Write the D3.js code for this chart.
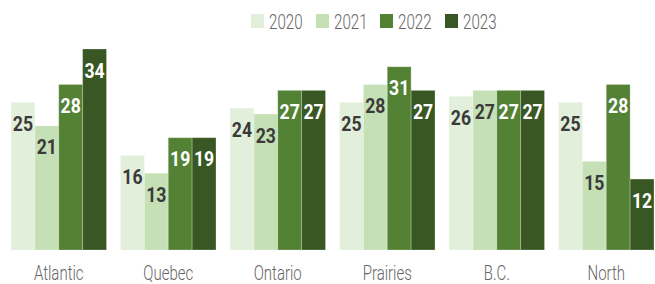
<!DOCTYPE html>
<html>
<head>
<meta charset="utf-8">
<script src="https://cdn.jsdelivr.net/npm/d3@7"></script>
<style>
body { margin: 0; background: #fff; }
text { font-family: Roboto, "Liberation Sans", sans-serif; }
</style>
</head>
<body>
<script>
var regions = ["Atlantic", "Quebec", "Ontario", "Prairies", "B.C.", "North"];
var years = ["2020", "2021", "2022", "2023"];
var v2020 = [25, 16, 24, 25, 26, 25];
var v2021 = [21, 13, 23, 28, 27, 15];
var v2022 = [28, 19, 27, 31, 27, 28];
var v2023 = [34, 19, 27, 27, 27, 12];
var colors = ["#e2efda", "#c5e0b4", "#548235", "#385723"];
var labelColors = ["#3a3a3a", "#3a3a3a", "#ffffff", "#ffffff"];

var series = [v2020, v2021, v2022, v2023];

var width = 655;
var height = 284;

var svg = d3.select("body").append("svg")
.attr("width", width)
.attr("height", height);

var xScale = d3.scaleBand().domain(regions).range([11, 654]).paddingInner(0.128).paddingOuter(0);
var xInner = d3.scaleBand().domain(years).range([0, xScale.bandwidth()]).padding(0);
var yScale = d3.scaleLinear().domain([0, 34]).range([250, 49]);

// legend
var legendX = d3.scaleOrdinal().domain(years).range([251, 316, 380, 445]);
var legend = svg.selectAll("g.legend")
.data(years)
.enter()
.append("g")
.attr("class", "legend")
.attr("transform", function(d){return "translate(" + legendX(d) + ",14)"});

legend.append("rect")
.attr("width", 13)
.attr("height", 14)
.attr("fill", function(d, i){return colors[i]});

legend.append("text")
.attr("transform", "translate(18,14.5) scale(0.72,1)")
.attr("font-size", 21)
.attr("font-weight", 300)
.attr("fill", "#666666")
.text(function(d){return d});

// bars
var groups = svg.selectAll("g.region")
.data(regions)
.enter()
.append("g")
.attr("class", "region")
.attr("transform", function(d){return "translate(" + xScale(d) + ",0)"});

var cells = groups.selectAll("g.bar")
.data(function(d, r){
	return years.map(function(y, i){return {year: y, i: i, value: series[i][r]}});
})
.enter()
.append("g")
.attr("class", "bar");

cells.append("rect")
.attr("x", function(d){return xInner(d.year)})
.attr("y", function(d){return yScale(d.value)})
.attr("width", xInner.bandwidth())
.attr("height", function(d){return yScale(0) - yScale(d.value)})
.attr("fill", function(d){return colors[d.i]})
.attr("stroke", "#ffffff")
.attr("stroke-opacity", 0.25)
.attr("stroke-width", 1);

cells.append("text")
.attr("transform", function(d){
	return "translate(" + (xInner(d.year) + xInner.bandwidth() / 2) + "," + (yScale(d.value) + 28.5) + ") scale(0.86,1)";
})
.attr("text-anchor", "middle")
.attr("font-size", 20.5)
.attr("font-weight", "bold")
.attr("fill", function(d){return labelColors[d.i]})
.text(function(d){return d.value});

// category labels
groups.append("text")
.attr("transform", "translate(" + (xScale.bandwidth() / 2) + ",280) scale(0.75,1)")
.attr("text-anchor", "middle")
.attr("font-size", 20)
.attr("font-weight", 300)
.attr("fill", "#666666")
.text(function(d){return d});
</script>
</body>
</html>
